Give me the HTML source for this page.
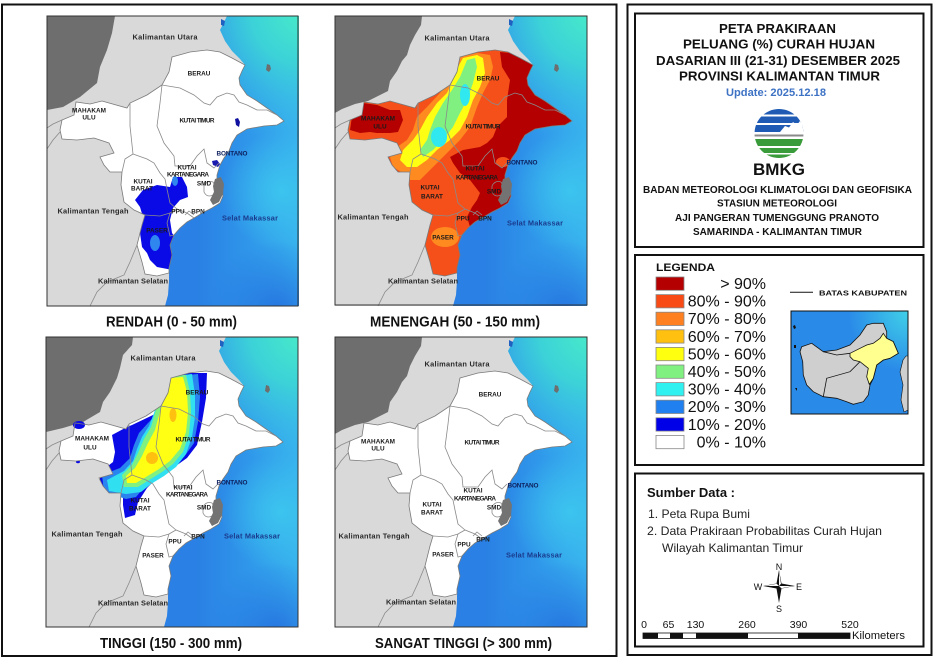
<!DOCTYPE html>
<html><head><meta charset="utf-8"><style>
html,body{margin:0;padding:0;background:#fff;}
svg{display:block;}
text{font-family:"Liberation Sans",Arial,sans-serif;}
.k{font-weight:bold;font-size:6.4px;fill:#1a1a1a;text-anchor:middle;}
.p{font-size:7.4px;fill:#2a2a2a;}
.b{fill:#0d1f5c;}
.sm{fill:#1a3a8c;}
.cap{font-weight:bold;font-size:14.5px;fill:#111;text-anchor:middle;}
.t{font-weight:bold;font-size:13px;fill:#111;text-anchor:middle;}
.o{font-weight:bold;font-size:10px;fill:#111;text-anchor:middle;}
.lg{font-size:16px;fill:#111;text-anchor:end;}
.sd{font-size:12px;fill:#222;}
.sc{font-size:10.5px;fill:#111;text-anchor:middle;}
</style></head><body>
<svg width="940" height="664" viewBox="0 0 940 664" xmlns="http://www.w3.org/2000/svg" xmlns:xlink="http://www.w3.org/1999/xlink">
<defs>
  <clipPath id="mapclip"><rect x="0" y="0" width="252" height="290"/></clipPath>
  <linearGradient id="seaL" gradientUnits="userSpaceOnUse" x1="150" y1="0" x2="252" y2="0">
    <stop offset="0" stop-color="#2a80e4"/><stop offset="0.5" stop-color="#2f96ea"/><stop offset="1" stop-color="#38b2ee"/>
  </linearGradient>
  <radialGradient id="seaR" gradientUnits="userSpaceOnUse" cx="258" cy="-5" r="135">
    <stop offset="0" stop-color="#48ecc8"/><stop offset="0.4" stop-color="#3cd2d8"/><stop offset="1" stop-color="#38b4ee" stop-opacity="0"/>
  </radialGradient>
  <radialGradient id="seaM" gradientUnits="userSpaceOnUse" cx="235" cy="175" r="60">
    <stop offset="0" stop-color="#3cc4ee"/><stop offset="1" stop-color="#3cc4ee" stop-opacity="0"/>
  </radialGradient>
  <radialGradient id="seaB" gradientUnits="userSpaceOnUse" cx="230" cy="295" r="70">
    <stop offset="0" stop-color="#2676e0"/><stop offset="1" stop-color="#2676e0" stop-opacity="0"/>
  </radialGradient>
  <polygon id="kaltim" points="125,41 143,36 160,34 173,36 185,42 198,49 195,55 192,62 193,69 200,79 210,85 220,92 230,99 237,105 230,109 217,110 200,113 190,119 185,127 182,135 177,142 173,149 170,159 170,165 175,170 176,180 173,187 165,192 157,196 147,202 140,206 133,212 127,219 123,229 125,239 122,252 122,257 110,260 98,258 95,246 90,229 95,209 98,199 87,194 77,186 74,169 75,156 63,156 57,149 53,141 67,137 62,127 47,122 30,124 15,123 13,114 15,104 27,99 29,86 43,88 55,85 80,92 83,87 100,79 115,69 122,56"/>
  <clipPath id="kc"><use xlink:href="#kaltim"/></clipPath>
  <g id="land">
    <rect x="0" y="0" width="252" height="290" fill="url(#seaL)"/>
    <rect x="0" y="0" width="252" height="290" fill="url(#seaM)"/>
    <rect x="0" y="0" width="252" height="290" fill="url(#seaR)"/>
    <rect x="0" y="0" width="252" height="290" fill="url(#seaB)"/>
    <polygon fill="#d9d9d9" points="0,0 180,0 173,14 178,25 185,35 193,43 198,49 195,55 192,62 193,69 200,79 210,85 220,92 230,99 237,105 230,109 217,110 200,113 190,119 185,127 182,135 177,142 173,149 170,159 170,165 175,170 176,180 173,187 165,192 157,196 147,202 140,206 133,212 127,219 123,229 125,239 122,252 122,257 122,265 121,279 118,290 0,290"/>
    <path d="M220,48 l3,1 l1,4 l-2,3 l-3,-2 z" fill="#6e6e6e"/>
    <path d="M174,3 l4,2 l-1,5 l-3,-1 z" fill="#2060c0"/>
  </g>
  <g id="lines" fill="none" stroke="#8a8a8a" stroke-width="0.8">
    <use xlink:href="#kaltim" fill="none" stroke="#7a7a7a" stroke-width="0.8"/>
    <polyline points="115,69 133,72 147,79 157,87 163,89 170,81 180,77 187,79 192,86 200,89 210,94 220,94 230,99"/>
    <polyline points="83,87 83,110 86,138 78,143 75,156"/>
    <polyline points="86,138 100,143 107,147 113,157 118,163 120,173 123,187 130,193"/>
    <polyline points="115,69 113,87 110,110 117,127 127,140 128,150 143,150 150,140 157,133 160,147 167,152 172,147"/>
    <polyline points="98,199 113,200 123,197 130,193 140,197 147,202"/>
    <polyline points="123,197 120,207 123,220 127,219"/>
    <path d="M157,170 Q160,164 166,166 Q170,172 166,179 Q160,182 157,176 Z"/>
    <polyline points="138,199 142,195 147,199"/>
    <polyline points="90,229 83,246 77,259 60,266 50,276 43,290"/>
    <polyline points="13,116 6,124 0,133"/>
    <polyline points="15,104 6,108 0,112"/>
  </g>
  <polygon id="smd" fill="#737373" points="168,163 174,161 177,168 176,178 172,186 166,189 163,184 167,176 166,170"/>
</defs>

<rect x="0" y="0" width="940" height="664" fill="#fff"/>

<!-- Left frame -->
<rect x="2" y="4.5" width="614.5" height="651.5" fill="none" stroke="#111" stroke-width="2"/>

<!-- MAP 1 -->
<g transform="translate(47,16)">
 <g clip-path="url(#mapclip)">
  <use xlink:href="#land"/>
  <polygon fill="#6e6e6e" points="0,0 68,0 65,17 60,34 53,51 50,67 33,81 16,91 0,94"/>
  <use xlink:href="#kaltim" fill="#fff"/>
  <g clip-path="url(#kc)">
    <polygon fill="#0a0ae6" points="88,184 96,174 110,169 123,171 126,161 135,161 140,171 141,181 133,184 126,192 123,204 125,217 130,224 128,241 131,251 126,254 110,251 103,244 100,237 95,231 93,217 96,201 93,191"/>
    <ellipse cx="108" cy="227" rx="5" ry="8" fill="#2f86ef"/>
    <ellipse cx="128" cy="165" rx="3" ry="5" fill="#2f86ef"/>
  </g>
  <path d="M188,103 l3,-1 l2,4 l-1,5 l-3,-2 z" fill="#1010a0"/>
  <path d="M165,145 l5,-1 l3,4 l-2,3 l-5,-2z" fill="#1a1ab0"/>
  <use xlink:href="#lines"/>
  <use xlink:href="#smd"/>
  <text class="k p" x="118" y="23.5" textLength="65">Kalimantan Utara</text>
  <text class="k" x="152" y="59.3">BERAU</text>
  <text class="k" x="42" y="96.3" textLength="34">MAHAKAM</text>
  <text class="k" x="42" y="103.3">ULU</text>
  <text class="k" x="150" y="106.3" textLength="35">KUTAI TIMUR</text>
  <text class="k b" x="185" y="139.3" textLength="31">BONTANO</text>
  <text class="k" x="140" y="153.3">KUTAI</text>
  <text class="k" x="141" y="160.3" textLength="42">KARTANEGARA</text>
  <text class="k" x="157" y="169.3">SMD</text>
  <text class="k" x="96" y="167.3">KUTAI</text>
  <text class="k" x="95" y="174.3">BARAT</text>
  <text class="k p" x="46" y="197.5" textLength="71">Kalimantan Tengah</text>
  <text class="k" x="131" y="197.3">PPU</text>
  <text class="k" x="151" y="197.3">BPN</text>
  <text class="k p sm" x="203" y="204.5" textLength="56">Selat Makassar</text>
  <text class="k" x="110" y="216.3">PASER</text>
  <text class="k p" x="86" y="267.5" textLength="70">Kalimantan Selatan</text>
 </g>
 <rect x="0" y="0" width="251" height="290" fill="none" stroke="#333" stroke-width="1"/>
</g>
<text class="cap" x="171.5" y="326.5" textLength="131" lengthAdjust="spacingAndGlyphs">RENDAH (0 - 50 mm)</text>

<!-- MAP 2 -->
<g transform="translate(335,16)">
 <g clip-path="url(#mapclip)">
  <use xlink:href="#land"/>
  <polygon fill="#6e6e6e" points="0,0 87,0 86,9 80,19 75,29 72,39 67,45 62,55 55,65 53,75 43,80 33,85 20,88 7,93 0,97"/>
  <use xlink:href="#kaltim" fill="#fff"/>
  <g clip-path="url(#kc)">
    <rect x="0" y="0" width="252" height="290" fill="#f5501a"/>
    <polygon fill="#b40000" points="165,36 205,40 245,100 245,118 200,118 192,140 186,146 180,150 182,165 190,175 185,200 160,210 145,215 135,211 132,201 137,191 142,184 145,177 135,164 125,157 118,147 115,141 128,134 145,131 152,127 158,121 162,111 172,101 172,84 175,64 167,51"/>
    <ellipse cx="168" cy="146" rx="7" ry="5" fill="#f5501a"/>
    <polygon fill="#b40000" points="18,94 28,87 42,89 55,94 65,94 68,104 63,116 55,117 42,117 35,116 25,117 15,114"/>
    <ellipse cx="110" cy="221" rx="14" ry="10" fill="#ff8a20"/>
    <polygon fill="#ff8a20" points="125,41 142,37 155,39 158,51 155,64 148,77 142,91 135,111 125,124 112,137 98,151 85,164 75,164 68,157 58,151 55,141 62,131 72,124 78,114 82,101 92,91 105,77 115,64 122,51"/>
    <polygon fill="#ffff14" points="128,42 142,39 148,42 150,57 145,71 138,84 132,101 125,114 115,124 102,134 92,144 82,151 72,151 65,144 68,134 78,124 85,114 92,101 102,87 112,77 118,64 123,51"/>
    <polygon fill="#80f080" points="132,44 140,42 142,51 138,67 132,84 125,97 118,111 108,124 98,134 88,141 85,134 92,124 95,114 100,101 108,87 117,74 125,61"/>
    <ellipse cx="130" cy="79" rx="5" ry="11" fill="#30e8f0"/>
    <ellipse cx="104" cy="121" rx="8" ry="10" fill="#30e8f0"/>
  </g>
  <use xlink:href="#lines"/>
  <use xlink:href="#smd"/>
  <text class="k p" x="122" y="24.5" textLength="65">Kalimantan Utara</text>
  <text class="k" x="153" y="64.3">BERAU</text>
  <text class="k" x="43" y="104.3" textLength="34">MAHAKAM</text>
  <text class="k" x="45" y="112.3">ULU</text>
  <text class="k" x="148" y="112.3" textLength="35">KUTAI TIMUR</text>
  <text class="k b" x="187" y="148.3" textLength="31">BONTANO</text>
  <text class="k" x="140" y="154.3">KUTAI</text>
  <text class="k" x="142" y="163.3" textLength="42">KARTANEGARA</text>
  <text class="k" x="159" y="177.3">SMD</text>
  <text class="k" x="95" y="173.3">KUTAI</text>
  <text class="k" x="97" y="182.3">BARAT</text>
  <text class="k p" x="38" y="203.5" textLength="71">Kalimantan Tengah</text>
  <text class="k" x="128" y="204.3">PPU</text>
  <text class="k" x="150" y="204.3">BPN</text>
  <text class="k p sm" x="200" y="209.5" textLength="56">Selat Makassar</text>
  <text class="k" x="108" y="223.3">PASER</text>
  <text class="k p" x="88" y="267.5" textLength="70">Kalimantan Selatan</text>
 </g>
 <rect x="0" y="0" width="252" height="289" fill="none" stroke="#333" stroke-width="1"/>
</g>
<text class="cap" x="455" y="326.5" textLength="170" lengthAdjust="spacingAndGlyphs">MENENGAH (50 - 150 mm)</text>

<!-- MAP 3 -->
<g transform="translate(46,337)">
 <g clip-path="url(#mapclip)">
  <use xlink:href="#land"/>
  <polygon fill="#6e6e6e" points="0,0 87,0 86,8 77,18 74,31 71,41 64,55 57,65 54,75 37,85 17,91 0,95"/>
  <use xlink:href="#kaltim" fill="#fff"/>
  <g clip-path="url(#kc)">
    <polygon fill="#0a0ae6" points="124,41 141,36 161,36 160,61 156,85 151,108 141,121 127,131 111,141 101,151 92,165 89,178 79,181 77,168 77,156 69,155 54,153 54,135 67,125 69,115 66,98 81,90 86,88 107,78 122,65"/>
    <polygon fill="#2a84f0" points="122,40 152,37 154,60 152,85 148,106 138,120 124,130 110,139 100,148 90,160 80,162 58,155 56,138 74,131 84,121 88,108 93,96 102,86 112,76 118,60"/>
    <polygon fill="#30e0f0" points="120,40 146,37 149,58 149,80 146,100 140,117 130,130 118,139 105,147 95,155 80,157 63,154 61,143 78,134 87,124 91,112 96,100 103,89 108,76 113,60 117,48"/>
    <polygon fill="#80f080" points="122,40 140,38 144,55 145,75 143,97 137,115 127,127 116,135 103,143 92,150 78,150 76,138 86,128 92,116 98,102 105,90 109,76 114,60 119,48"/>
    <polygon fill="#ffff14" points="124,41 137,40 141,55 142,75 140,95 134,112 124,124 113,132 100,140 90,146 81,146 80,139 89,131 96,119 102,106 109,93 113,78 118,62 122,50"/>
    <ellipse cx="127" cy="78" rx="3.5" ry="7" fill="#ffc010"/>
    <ellipse cx="106" cy="121" rx="6" ry="6" fill="#ffc010"/>
  </g>
  <ellipse cx="33" cy="88" rx="6" ry="4" fill="#0a0ae6"/>
  <ellipse cx="32" cy="125" rx="2" ry="1.2" fill="#0a0ae6"/>
  <use xlink:href="#lines"/>
  <use xlink:href="#smd"/>
  <text class="k p" x="117" y="23.5" textLength="65">Kalimantan Utara</text>
  <text class="k" x="151" y="57.3">BERAU</text>
  <text class="k" x="46" y="103.3" textLength="34">MAHAKAM</text>
  <text class="k" x="44" y="112.3">ULU</text>
  <text class="k" x="147" y="104.3" textLength="35">KUTAI TIMUR</text>
  <text class="k b" x="186" y="147.3" textLength="31">BONTANO</text>
  <text class="k" x="137" y="152.3">KUTAI</text>
  <text class="k" x="141" y="159.3" textLength="42">KARTANEGARA</text>
  <text class="k" x="158" y="172.3">SMD</text>
  <text class="k" x="94" y="165.3">KUTAI</text>
  <text class="k" x="94" y="173.3">BARAT</text>
  <text class="k p" x="41" y="199.5" textLength="71">Kalimantan Tengah</text>
  <text class="k" x="129" y="206.3">PPU</text>
  <text class="k" x="152" y="201.3">BPN</text>
  <text class="k p sm" x="206" y="201.5" textLength="56">Selat Makassar</text>
  <text class="k" x="107" y="220.3">PASER</text>
  <text class="k p" x="87" y="268.5" textLength="70">Kalimantan Selatan</text>
 </g>
 <rect x="0" y="0" width="252" height="290" fill="none" stroke="#333" stroke-width="1"/>
</g>
<text class="cap" x="171" y="648" textLength="142" lengthAdjust="spacingAndGlyphs">TINGGI (150 - 300 mm)</text>

<!-- MAP 4 -->
<g transform="translate(335,337)">
 <g clip-path="url(#mapclip)">
  <use xlink:href="#land"/>
  <polygon fill="#6e6e6e" points="0,0 87,0 86,9 80,19 75,29 72,39 67,45 62,55 55,65 53,75 43,80 33,85 20,88 7,93 0,97"/>
  <use xlink:href="#kaltim" fill="#fff"/>
  <use xlink:href="#lines"/>
  <use xlink:href="#smd"/>
  <text class="k p" x="122" y="29.5" textLength="65">Kalimantan Utara</text>
  <text class="k" x="155" y="59.3">BERAU</text>
  <text class="k" x="43" y="106.3" textLength="34">MAHAKAM</text>
  <text class="k" x="43" y="113.3">ULU</text>
  <text class="k" x="147" y="107.3" textLength="35">KUTAI TIMUR</text>
  <text class="k b" x="188" y="150.3" textLength="31">BONTANO</text>
  <text class="k" x="138" y="155.3">KUTAI</text>
  <text class="k" x="140" y="163.3" textLength="42">KARTANEGARA</text>
  <text class="k" x="159" y="172.3">SMD</text>
  <text class="k" x="97" y="169.3">KUTAI</text>
  <text class="k" x="97" y="177.3">BARAT</text>
  <text class="k p" x="39" y="201.5" textLength="71">Kalimantan Tengah</text>
  <text class="k" x="129" y="209.3">PPU</text>
  <text class="k" x="148" y="204.3">BPN</text>
  <text class="k p sm" x="199" y="220.5" textLength="56">Selat Makassar</text>
  <text class="k" x="108" y="219.3">PASER</text>
  <text class="k p" x="86" y="267.5" textLength="70">Kalimantan Selatan</text>
 </g>
 <rect x="0" y="0" width="252" height="290" fill="none" stroke="#333" stroke-width="1"/>
</g>
<text class="cap" x="463.5" y="648" textLength="177" lengthAdjust="spacingAndGlyphs">SANGAT TINGGI (&gt; 300 mm)</text>

<!-- RIGHT PANEL -->
<rect x="627.5" y="4.5" width="304" height="650.5" fill="none" stroke="#111" stroke-width="2"/>
<rect x="635" y="13.5" width="288.5" height="233.5" fill="none" stroke="#111" stroke-width="2"/>
<rect x="635" y="255" width="288.5" height="210" fill="none" stroke="#111" stroke-width="2"/>
<rect x="635" y="473.5" width="288.5" height="173" fill="none" stroke="#111" stroke-width="2"/>

<text class="t" x="777.5" y="33" textLength="117" lengthAdjust="spacingAndGlyphs">PETA PRAKIRAAN</text>
<text class="t" x="779" y="48.5" textLength="192" lengthAdjust="spacingAndGlyphs">PELUANG (%) CURAH HUJAN</text>
<text class="t" x="778" y="65" textLength="244" lengthAdjust="spacingAndGlyphs">DASARIAN III (21-31) DESEMBER 2025</text>
<text class="t" x="779.5" y="80.5" textLength="201" lengthAdjust="spacingAndGlyphs">PROVINSI KALIMANTAN TIMUR</text>
<text x="776" y="96" text-anchor="middle" font-weight="bold" font-size="11" fill="#3d72c4" textLength="100" lengthAdjust="spacingAndGlyphs">Update: 2025.12.18</text>

<!-- BMKG logo -->
<clipPath id="lc"><circle cx="779" cy="133.5" r="24.5"/></clipPath>
<g clip-path="url(#lc)">
  <rect x="754" y="108" width="50" height="6.5" fill="#1f5bb5"/>
  <rect x="754" y="116.5" width="50" height="6.5" fill="#1f5bb5"/>
  <rect x="754" y="125" width="50" height="7" fill="#1f5bb5"/>
  <polygon fill="#fff" points="780,132 785,126 789,127.5 793,122 797,125 800,121 804,124 804,132"/>
  <rect x="754" y="134.5" width="50" height="2" fill="#8a8a8a"/>
  <rect x="754" y="139" width="50" height="7" fill="#3a9b3a"/>
  <rect x="754" y="148" width="50" height="5" fill="#3a9b3a"/>
  <rect x="754" y="154.5" width="50" height="5" fill="#3a9b3a"/>
</g>
<text x="779" y="175" text-anchor="middle" font-weight="bold" font-size="16.5" fill="#111" textLength="52" lengthAdjust="spacingAndGlyphs">BMKG</text>
<text class="o" x="777.5" y="193" textLength="269" lengthAdjust="spacingAndGlyphs">BADAN METEOROLOGI KLIMATOLOGI DAN GEOFISIKA</text>
<text class="o" x="777" y="206.5" textLength="120" lengthAdjust="spacingAndGlyphs">STASIUN METEOROLOGI</text>
<text class="o" x="777" y="221" textLength="204" lengthAdjust="spacingAndGlyphs">AJI PANGERAN TUMENGGUNG PRANOTO</text>
<text class="o" x="777.5" y="235" textLength="169" lengthAdjust="spacingAndGlyphs">SAMARINDA - KALIMANTAN TIMUR</text>

<!-- Legend -->
<text x="656" y="271" font-weight="bold" font-size="11" fill="#111" textLength="59" lengthAdjust="spacingAndGlyphs">LEGENDA</text>
<g stroke="#888" stroke-width="0.8">
  <rect x="656" y="277" width="28" height="13.3" fill="#b40000"/>
  <rect x="656" y="294.6" width="28" height="13.3" fill="#f84a14"/>
  <rect x="656" y="312.2" width="28" height="13.3" fill="#ff8020"/>
  <rect x="656" y="329.8" width="28" height="13.3" fill="#ffc010"/>
  <rect x="656" y="347.4" width="28" height="13.3" fill="#ffff10"/>
  <rect x="656" y="365" width="28" height="13.3" fill="#80f080"/>
  <rect x="656" y="382.6" width="28" height="13.3" fill="#30f0f0"/>
  <rect x="656" y="400.2" width="28" height="13.3" fill="#2080f0"/>
  <rect x="656" y="417.8" width="28" height="13.3" fill="#0000e8"/>
  <rect x="656" y="435.4" width="28" height="13.3" fill="#fff"/>
</g>
<text class="lg" x="766" y="289">&gt; 90%</text>
<text class="lg" x="766" y="306.6">80% - 90%</text>
<text class="lg" x="766" y="324.2">70% - 80%</text>
<text class="lg" x="766" y="341.8">60% - 70%</text>
<text class="lg" x="766" y="359.4">50% - 60%</text>
<text class="lg" x="766" y="377">40% - 50%</text>
<text class="lg" x="766" y="394.6">30% - 40%</text>
<text class="lg" x="766" y="412.2">20% - 30%</text>
<text class="lg" x="766" y="429.8">10% - 20%</text>
<text class="lg" x="766" y="447.4">0% - 10%</text>

<line x1="790" y1="292.3" x2="813" y2="292.3" stroke="#111" stroke-width="1"/>
<text x="819" y="295.5" font-weight="bold" font-size="7.5" fill="#111" textLength="88" lengthAdjust="spacingAndGlyphs">BATAS KABUPATEN</text>

<!-- Inset map -->
<defs>
  <radialGradient id="insR" gradientUnits="userSpaceOnUse" cx="908" cy="312" r="60">
    <stop offset="0" stop-color="#40d0e8"/><stop offset="1" stop-color="#40d0e8" stop-opacity="0"/>
  </radialGradient>
</defs>
<rect x="791" y="311" width="117" height="103" fill="#2a8ae8"/>
<rect x="791" y="311" width="117" height="103" fill="url(#insR)"/>
<polygon fill="#cfcfcf" stroke="#111" stroke-width="0.8" points="801.7,346.7 811.7,343.3 823.3,351.7 836.7,350 850,345 860,335 866.7,325 873.3,323.3 883.3,323.3 886.7,331.7 886.7,338.3 893.3,341.7 898.3,353.3 890,358.3 883.3,360 876.7,365 873.3,378.3 870,385 868.3,395 863.3,401.7 853.3,404.3 846.7,401.7 836.7,398.3 823.3,396.7 813.3,391.7 806.7,385 803.3,375 802.7,361.7 800,351.7"/>
<polygon fill="#ffff90" stroke="#111" stroke-width="0.8" points="850,353.3 860,348.3 866.7,345 873.3,343.3 880,338.3 883.3,333.3 886.7,338.3 893.3,341.7 898.3,353.3 890,358.3 883.3,360 876.7,365 873.3,378.3 869.3,384.3 866.7,376.7 868.3,368.3 860,361.7 853.3,360 850,356.7"/>
<polyline fill="none" stroke="#111" stroke-width="0.8" points="823.3,396.7 826.7,378.3 850,371.7 860,361.7"/>
<polyline fill="none" stroke="#111" stroke-width="0.8" points="850,353.3 836.7,355 823.3,351.7"/>
<polygon fill="#cfcfcf" stroke="#111" stroke-width="0.6" points="903,360 906,356 908,356 908,410 904,412 901,400 903,385 900,372"/>
<path d="M793,326 l2,-1 l1,3 l-2,1z M794,345 l2,0 l0,3 l-2,0z M795,388 l2,0 l0,3z" fill="#111"/>
<rect x="791" y="311" width="117" height="103" fill="none" stroke="#111" stroke-width="1"/>

<!-- Sumber Data -->
<text x="647" y="497" font-weight="bold" font-size="12.5" fill="#111" textLength="88" lengthAdjust="spacingAndGlyphs">Sumber Data :</text>
<text class="sd" x="648" y="518" textLength="102" lengthAdjust="spacingAndGlyphs">1. Peta Rupa Bumi</text>
<text class="sd" x="647" y="535" textLength="235" lengthAdjust="spacingAndGlyphs">2. Data Prakiraan Probabilitas Curah Hujan</text>
<text class="sd" x="662" y="552" textLength="141" lengthAdjust="spacingAndGlyphs">Wilayah Kalimantan Timur</text>

<!-- Compass -->
<path d="M779,570 L781.5,583.5 L795,586 L781.5,588.5 L779,603 L776.5,588.5 L763,586 L776.5,583.5 Z" fill="#111"/>
<polygon points="779,571.5 781,583.8 779,586" fill="#fff"/>
<polygon points="793,586 781.3,588.2 779,586" fill="#fff"/>
<polygon points="765,586 776.7,583.8 779,586" fill="#fff"/>
<text x="779" y="570" text-anchor="middle" font-size="9" fill="#111">N</text>
<text x="779" y="612" text-anchor="middle" font-size="9" fill="#111">S</text>
<text x="758" y="590" text-anchor="middle" font-size="9" fill="#111">W</text>
<text x="799" y="590" text-anchor="middle" font-size="9" fill="#111">E</text>

<!-- Scale bar -->
<text class="sc" x="644" y="628">0</text>
<text class="sc" x="668.5" y="628">65</text>
<text class="sc" x="695.5" y="628">130</text>
<text class="sc" x="747" y="628">260</text>
<text class="sc" x="798.5" y="628">390</text>
<text class="sc" x="850" y="628">520</text>
<rect x="643" y="633" width="207" height="5.5" fill="#fff" stroke="#111" stroke-width="0.8"/>
<rect x="643" y="633" width="15" height="5.5" fill="#111"/>
<rect x="670" y="633" width="13" height="5.5" fill="#111"/>
<rect x="696" y="633" width="52" height="5.5" fill="#111"/>
<rect x="798" y="633" width="52" height="5.5" fill="#111"/>
<text x="852" y="639" font-size="11" fill="#111" textLength="53" lengthAdjust="spacingAndGlyphs">Kilometers</text>
</svg>
</body></html>
